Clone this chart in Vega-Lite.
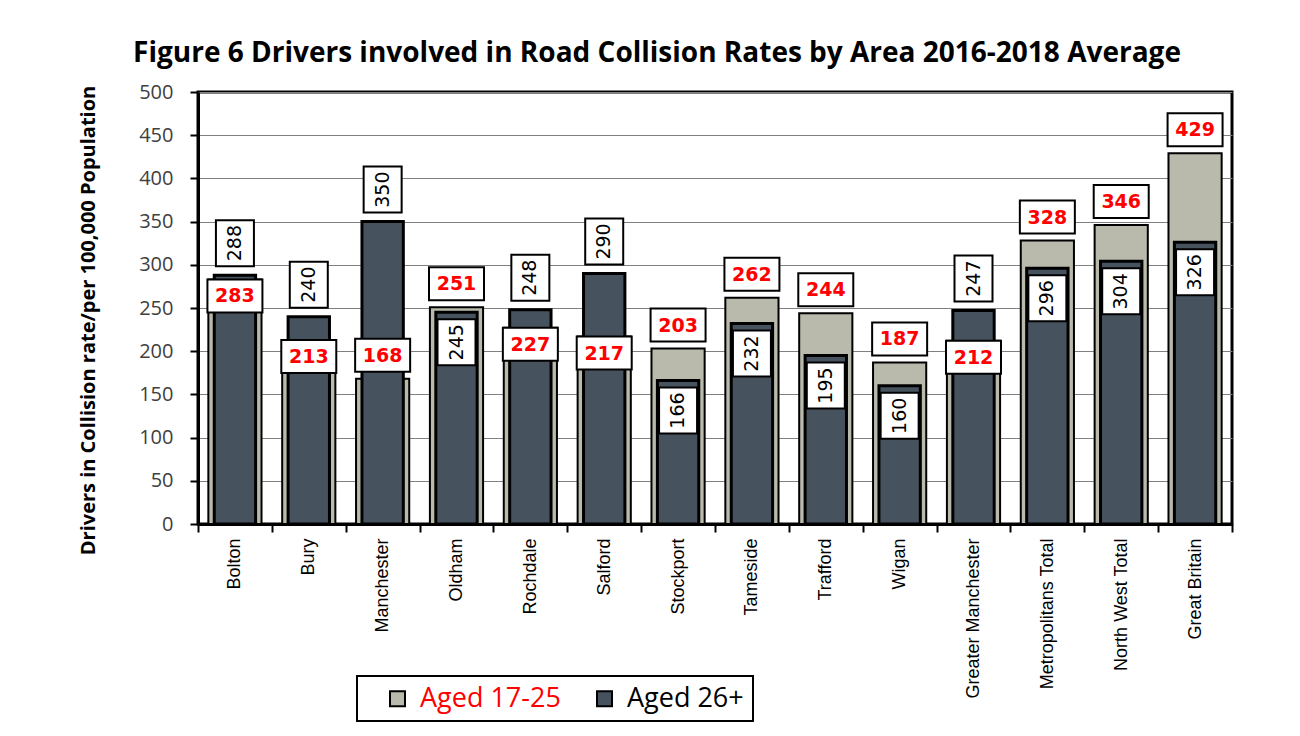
{
  "$schema": "https://vega.github.io/schema/vega-lite/v6.json",
  "width": 1034,
  "height": 432,
  "autosize": {"type": "none"},
  "padding": {"left": 198, "top": 92, "right": 68, "bottom": 212},
  "background": "white",
  "title": {
    "text": "Figure 6 Drivers involved in Road Collision Rates by Area 2016-2018 Average",
    "font": "Open Sans", "fontSize": 28, "fontWeight": "bold", "color": "black",
    "anchor": "middle", "dx": -58, "dy": 37, "baseline": "alphabetic", "offset": 29
  },
  "data": {
    "values": [
      {"area": "Bolton", "aged_17_25": 283, "aged_26_plus": 288},
      {"area": "Bury", "aged_17_25": 213, "aged_26_plus": 240},
      {"area": "Manchester", "aged_17_25": 168, "aged_26_plus": 350},
      {"area": "Oldham", "aged_17_25": 251, "aged_26_plus": 245},
      {"area": "Rochdale", "aged_17_25": 227, "aged_26_plus": 248},
      {"area": "Salford", "aged_17_25": 217, "aged_26_plus": 290},
      {"area": "Stockport", "aged_17_25": 203, "aged_26_plus": 166},
      {"area": "Tameside", "aged_17_25": 262, "aged_26_plus": 232},
      {"area": "Trafford", "aged_17_25": 244, "aged_26_plus": 195},
      {"area": "Wigan", "aged_17_25": 187, "aged_26_plus": 160},
      {"area": "Greater Manchester", "aged_17_25": 212, "aged_26_plus": 247},
      {"area": "Metropolitans Total", "aged_17_25": 328, "aged_26_plus": 296},
      {"area": "North West Total", "aged_17_25": 346, "aged_26_plus": 304},
      {"area": "Great Britain", "aged_17_25": 429, "aged_26_plus": 326}
    ]
  },
  "encoding": {
    "x": {
      "field": "area", "type": "nominal", "sort": null, "title": null,
      "scale": {"paddingInner": 0, "paddingOuter": 0},
      "axis": {
        "labelAngle": -90, "labelAlign": "right", "labelBaseline": "middle",
        "labelFont": "Liberation Sans", "labelFontSize": 18, "labelColor": "black",
        "tickBand": "extent", "tickSize": 8, "tickColor": "black", "tickWidth": 2,
        "labelPadding": 6, "domainColor": "black", "domainWidth": 3, "grid": false,
        "labelLimit": 300
      }
    }
  },
  "layer": [
    {
      "mark": {"type": "bar", "width": {"band": 0.72}, "stroke": "black", "strokeWidth": 2},
      "encoding": {
        "y": {
          "field": "aged_17_25", "type": "quantitative",
          "title": "Drivers in Collision rate/per 100,000 Population",
          "scale": {"domain": [0, 500], "nice": false},
          "axis": {
            "values": [0, 50, 100, 150, 200, 250, 300, 350, 400, 450, 500],
            "grid": true, "gridColor": "#808080", "gridWidth": 1,
            "tickSize": 8, "tickColor": "black", "tickWidth": 2,
            "domainColor": "black", "domainWidth": 3,
            "labelFont": "Open Sans", "labelFontSize": 20, "labelColor": "#404040", "labelPadding": 17,
            "titleFont": "Open Sans", "titleFontSize": 20, "titleFontWeight": "bold", "titleColor": "black",
            "titleX": -110, "titleY": 228, "titleAlign": "center", "titleBaseline": "middle", "titleAngle": -90
          }
        },
        "color": {
          "datum": "Aged 17-25",
          "scale": {"domain": ["Aged 17-25", "Aged 26+"], "range": ["#b9b9ac", "#46535f"]},
          "legend": {
            "orient": "none", "legendX": 159, "legendY": 584, "direction": "horizontal", "title": null,
            "symbolType": "square", "symbolSize": 225, "symbolStrokeColor": "black", "symbolStrokeWidth": 2,
            "symbolOpacity": 1,
            "labelFont": "Open Sans", "labelFontSize": 27, "labelOffset": 9, "symbolOffset": 18,
            "columnPadding": 12, "gridAlign": "all", "padding": 9, "strokeColor": "black",
            "labelLimit": 300,
            "encode": {"labels": {"update": {"fill": {"signal": "datum.value === 'Aged 17-25' ? '#ff0000' : '#000000'"}}}}
          }
        }
      }
    },
    {
      "mark": {"type": "bar", "width": {"band": 0.56}, "stroke": "black", "strokeWidth": 3},
      "encoding": {
        "y": {"field": "aged_26_plus", "type": "quantitative", "title": "Drivers in Collision rate/per 100,000 Population"},
        "color": {"datum": "Aged 26+"}
      }
    },
    {
      "transform": [{"filter": "datum.aged_17_25 > datum.aged_26_plus || datum.aged_26_plus - datum.aged_17_25 > 100"}],
      "mark": {"type": "point", "shape": "M-1.1,-1.6H1.1V-0.28H-1.1Z", "size": 2500, "filled": true, "fill": "white", "stroke": "black", "strokeWidth": 2, "opacity": 1},
      "encoding": {"y": {"field": "aged_17_25", "type": "quantitative", "title": "Drivers in Collision rate/per 100,000 Population"}}
    },
    {
      "transform": [{"filter": "datum.aged_17_25 <= datum.aged_26_plus && datum.aged_26_plus - datum.aged_17_25 <= 100"}],
      "mark": {"type": "point", "shape": "M-1.1,0.0H1.1V1.32H-1.1Z", "size": 2500, "filled": true, "fill": "white", "stroke": "black", "strokeWidth": 2, "opacity": 1},
      "encoding": {"y": {"field": "aged_17_25", "type": "quantitative", "title": "Drivers in Collision rate/per 100,000 Population"}}
    },
    {
      "transform": [{"filter": "datum.aged_17_25 > datum.aged_26_plus || datum.aged_26_plus - datum.aged_17_25 > 100"}],
      "mark": {"type": "text", "dy": -23, "font": "DejaVu Sans", "fontSize": 19, "fontWeight": "bold", "fill": "#ff0000", "baseline": "middle", "align": "center"},
      "encoding": {
        "y": {"field": "aged_17_25", "type": "quantitative", "title": "Drivers in Collision rate/per 100,000 Population"},
        "text": {"field": "aged_17_25", "type": "quantitative"}
      }
    },
    {
      "transform": [{"filter": "datum.aged_17_25 <= datum.aged_26_plus && datum.aged_26_plus - datum.aged_17_25 <= 100"}],
      "mark": {"type": "text", "dy": 17, "font": "DejaVu Sans", "fontSize": 19, "fontWeight": "bold", "fill": "#ff0000", "baseline": "middle", "align": "center"},
      "encoding": {
        "y": {"field": "aged_17_25", "type": "quantitative", "title": "Drivers in Collision rate/per 100,000 Population"},
        "text": {"field": "aged_17_25", "type": "quantitative"}
      }
    },
    {
      "transform": [{"filter": "datum.aged_26_plus > datum.aged_17_25"}],
      "mark": {"type": "point", "shape": "M-0.76,-2.2H0.76V-0.36H-0.76Z", "size": 2500, "filled": true, "fill": "white", "stroke": "black", "strokeWidth": 2, "opacity": 1},
      "encoding": {"y": {"field": "aged_26_plus", "type": "quantitative", "title": "Drivers in Collision rate/per 100,000 Population"}}
    },
    {
      "transform": [{"filter": "datum.aged_26_plus <= datum.aged_17_25"}],
      "mark": {"type": "point", "shape": "M-0.76,0.28H0.76V2.12H-0.76Z", "size": 2500, "filled": true, "fill": "white", "stroke": "black", "strokeWidth": 2, "opacity": 1},
      "encoding": {"y": {"field": "aged_26_plus", "type": "quantitative", "title": "Drivers in Collision rate/per 100,000 Population"}}
    },
    {
      "transform": [{"filter": "datum.aged_26_plus > datum.aged_17_25"}],
      "mark": {"type": "text", "angle": 270, "dx": 32, "font": "DejaVu Sans", "fontSize": 19, "fill": "black", "baseline": "middle", "align": "center"},
      "encoding": {
        "y": {"field": "aged_26_plus", "type": "quantitative", "title": "Drivers in Collision rate/per 100,000 Population"},
        "text": {"field": "aged_26_plus", "type": "quantitative"}
      }
    },
    {
      "transform": [{"filter": "datum.aged_26_plus <= datum.aged_17_25"}],
      "mark": {"type": "text", "angle": 270, "dx": -30, "font": "DejaVu Sans", "fontSize": 19, "fill": "black", "baseline": "middle", "align": "center"},
      "encoding": {
        "y": {"field": "aged_26_plus", "type": "quantitative", "title": "Drivers in Collision rate/per 100,000 Population"},
        "text": {"field": "aged_26_plus", "type": "quantitative"}
      }
    }
  ],
  "config": {
    "view": {"stroke": "black", "strokeWidth": 3},
    "legend": {"strokeWidth": 2}
  }
}
